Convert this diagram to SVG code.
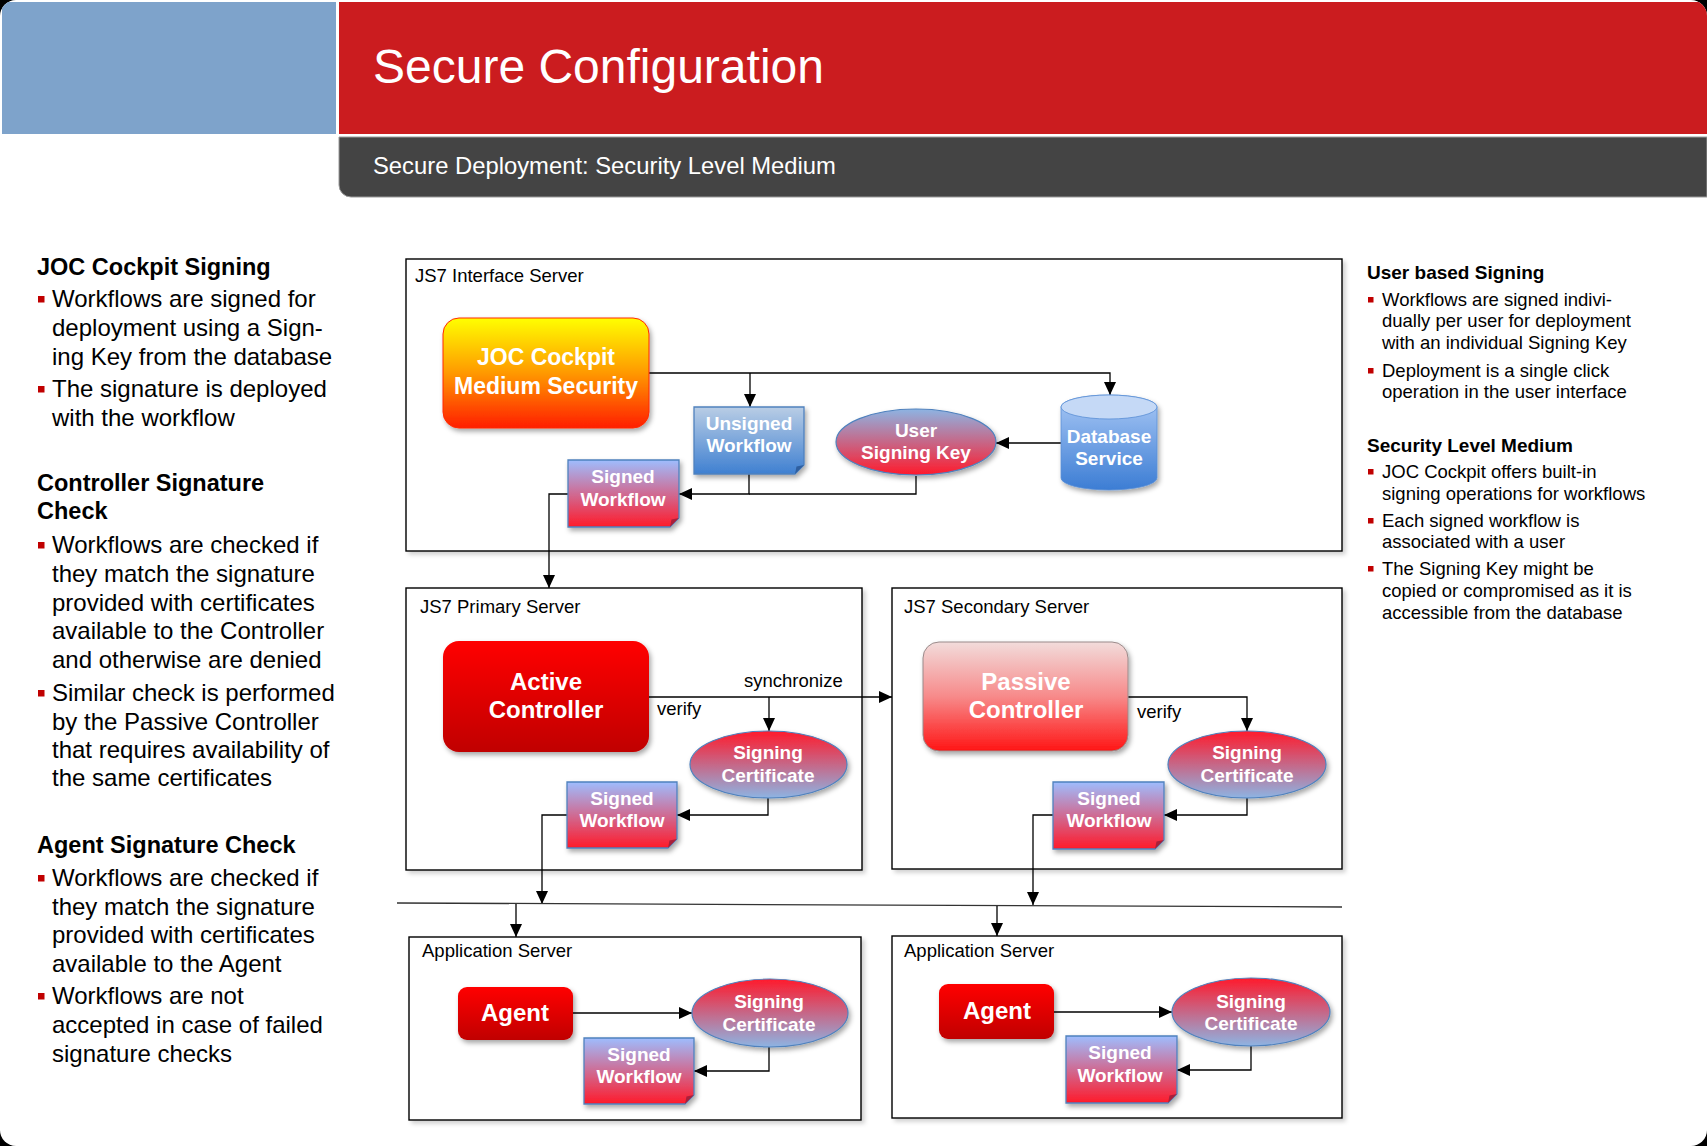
<svg xmlns="http://www.w3.org/2000/svg" width="1707" height="1146" viewBox="0 0 1707 1146">
<style>
.t{font-family:"Liberation Sans",Arial,sans-serif}
.h{font-weight:bold;fill:#000}
.lb{font-size:24px;fill:#000}
.rb{font-size:18.5px;fill:#000}
.bul{fill:#c00000}
.box{fill:#fff;stroke:#000;stroke-width:1.4}
.lbl{font-size:18.5px;fill:#000}
.nl{font-size:19px;font-weight:bold;fill:#fff;text-anchor:middle}
.nj{font-size:23px;font-weight:bold;fill:#fff;text-anchor:middle}
.nb{font-size:24px;font-weight:bold;fill:#fff;text-anchor:middle}
.conn{fill:none;stroke:#000;stroke-width:1.3}
.doc{stroke:#4f81bd;stroke-width:1.3}
.ell{stroke:#4f81bd;stroke-width:1.2}
</style>
<defs>
<clipPath id="cr"><rect x="0" y="0" width="1707" height="1146" rx="16"/></clipPath>
<linearGradient id="gJoc" x1="0" y1="0" x2="0" y2="1"><stop offset="0" stop-color="#ffff00"/><stop offset="0.5" stop-color="#ff9900"/><stop offset="1" stop-color="#ff1e00"/></linearGradient>
<linearGradient id="gRed" x1="0" y1="0" x2="0" y2="1"><stop offset="0" stop-color="#ff0000"/><stop offset="1" stop-color="#c00000"/></linearGradient>
<linearGradient id="gPass" x1="0" y1="0" x2="0" y2="1"><stop offset="0" stop-color="#f2dcdb"/><stop offset="0.5" stop-color="#f78a8a"/><stop offset="1" stop-color="#ff1515"/></linearGradient>
<linearGradient id="gSig" x1="0" y1="0" x2="0" y2="1"><stop offset="0" stop-color="#9ebdfe"/><stop offset="1" stop-color="#ff1a2a"/></linearGradient>
<linearGradient id="gUns" x1="0" y1="0" x2="0" y2="1"><stop offset="0" stop-color="#b9cde5"/><stop offset="1" stop-color="#3f80d1"/></linearGradient>
<linearGradient id="gCert" x1="0" y1="0" x2="0" y2="1"><stop offset="0" stop-color="#ff1a2c"/><stop offset="1" stop-color="#8db4e3"/></linearGradient>
<linearGradient id="gKey" x1="0" y1="0" x2="0" y2="1"><stop offset="0" stop-color="#8db4e3"/><stop offset="1" stop-color="#ff1a2c"/></linearGradient>
<linearGradient id="gDb" x1="0" y1="0" x2="0" y2="1"><stop offset="0" stop-color="#a9c8f5"/><stop offset="1" stop-color="#3c7dd4"/></linearGradient>
<marker id="ah" viewBox="0 0 13 12" refX="13" refY="6" markerWidth="13" markerHeight="12" markerUnits="userSpaceOnUse" orient="auto"><path d="M0,0 L13,6 L0,12 Z" fill="#000"/></marker>
<filter id="sh" x="-10%" y="-10%" width="130%" height="140%"><feDropShadow dx="2" dy="3" stdDeviation="2.5" flood-color="#000" flood-opacity="0.35"/></filter>
<filter id="bsh" x="-2%" y="-2%" width="104%" height="106%"><feDropShadow dx="3" dy="3" stdDeviation="2" flood-color="#000" flood-opacity="0.18"/></filter>
</defs>

<rect x="0" y="0" width="1707" height="1146" fill="#000"/>
<rect x="0" y="0" width="1707" height="1146" rx="16" fill="#fff"/>

<g id="header" clip-path="url(#cr)">
<rect x="2" y="2" width="334" height="132" fill="#7ea3cb"/>
<rect x="339" y="2" width="1368" height="132" fill="#cb1c1f"/>
<path d="M339,137 H1707 V197 H351 A12,12 0 0 1 339,185 Z" fill="#444444" stroke="#9a9a9a" stroke-width="1"/>
<text class="t" x="373" y="83" font-size="48" fill="#fff">Secure Configuration</text>
<text class="t" x="373" y="174" font-size="23.8" fill="#fff">Secure Deployment: Security Level Medium</text>
</g>

<g id="left-text" class="t">
<text class="h" x="37" y="275" font-size="23.5">JOC Cockpit Signing</text>
<rect class="bul" x="38" y="296" width="6.5" height="6.5"/>
<text class="lb" x="52" y="307">Workflows are signed for</text>
<text class="lb" x="52" y="336">deployment using a Sign-</text>
<text class="lb" x="52" y="365">ing Key from the database</text>
<rect class="bul" x="38" y="386" width="6.5" height="6.5"/>
<text class="lb" x="52" y="397">The signature is deployed</text>
<text class="lb" x="52" y="426">with the workflow</text>
<text class="h" x="37" y="491" font-size="23.5">Controller Signature</text>
<text class="h" x="37" y="519" font-size="23.5">Check</text>
<rect class="bul" x="38" y="542" width="6.5" height="6.5"/>
<text class="lb" x="52" y="553">Workflows are checked if</text>
<text class="lb" x="52" y="582">they match the signature</text>
<text class="lb" x="52" y="611">provided with certificates</text>
<text class="lb" x="52" y="639">available to the Controller</text>
<text class="lb" x="52" y="668">and otherwise are denied</text>
<rect class="bul" x="38" y="690" width="6.5" height="6.5"/>
<text class="lb" x="52" y="701">Similar check is performed</text>
<text class="lb" x="52" y="730">by the Passive Controller</text>
<text class="lb" x="52" y="758">that requires availability of</text>
<text class="lb" x="52" y="786">the same certificates</text>
<text class="h" x="37" y="853" font-size="23.5">Agent Signature Check</text>
<rect class="bul" x="38" y="875" width="6.5" height="6.5"/>
<text class="lb" x="52" y="886">Workflows are checked if</text>
<text class="lb" x="52" y="915">they match the signature</text>
<text class="lb" x="52" y="943">provided with certificates</text>
<text class="lb" x="52" y="972">available to the Agent</text>
<rect class="bul" x="38" y="993" width="6.5" height="6.5"/>
<text class="lb" x="52" y="1004">Workflows are not</text>
<text class="lb" x="52" y="1033">accepted in case of failed</text>
<text class="lb" x="52" y="1062">signature checks</text>
</g>

<g id="right-text" class="t">
<text class="h" x="1367" y="279" font-size="19">User based Signing</text>
<rect class="bul" x="1368" y="297" width="5.5" height="5.5"/>
<text class="rb" x="1382" y="306">Workflows are signed indivi-</text>
<text class="rb" x="1382" y="327">dually per user for deployment</text>
<text class="rb" x="1382" y="349">with an individual Signing Key</text>
<rect class="bul" x="1368" y="368" width="5.5" height="5.5"/>
<text class="rb" x="1382" y="377">Deployment is a single click</text>
<text class="rb" x="1382" y="398">operation in the user interface</text>
<text class="h" x="1367" y="452" font-size="19">Security Level Medium</text>
<rect class="bul" x="1368" y="469" width="5.5" height="5.5"/>
<text class="rb" x="1382" y="478">JOC Cockpit offers built-in</text>
<text class="rb" x="1382" y="500">signing operations for workflows</text>
<rect class="bul" x="1368" y="518" width="5.5" height="5.5"/>
<text class="rb" x="1382" y="527">Each signed workflow is</text>
<text class="rb" x="1382" y="548">associated with a user</text>
<rect class="bul" x="1368" y="566" width="5.5" height="5.5"/>
<text class="rb" x="1382" y="575">The Signing Key might be</text>
<text class="rb" x="1382" y="597">copied or compromised as it is</text>
<text class="rb" x="1382" y="619">accessible from the database</text>
</g>

<g id="server-boxes" class="t">
<g id="interface-server"><rect class="box" filter="url(#bsh)" x="406" y="259" width="936" height="292"/><text class="lbl" x="415" y="282">JS7 Interface Server</text></g>
<g id="primary-server"><rect class="box" filter="url(#bsh)" x="406" y="588" width="456" height="282"/><text class="lbl" x="420" y="613">JS7 Primary Server</text></g>
<g id="secondary-server"><rect class="box" filter="url(#bsh)" x="892" y="588" width="450" height="281"/><text class="lbl" x="904" y="613">JS7 Secondary Server</text></g>
<g id="app-server-1"><rect class="box" filter="url(#bsh)" x="409" y="937" width="452" height="183"/><text class="lbl" x="422" y="957">Application Server</text></g>
<g id="app-server-2"><rect class="box" filter="url(#bsh)" x="892" y="936" width="450" height="182"/><text class="lbl" x="904" y="957">Application Server</text></g>
</g>

<g id="connectors" class="conn">
<path d="M649,373 H1110 V395" marker-end="url(#ah)"/>
<path d="M750,373 V407" marker-end="url(#ah)"/>
<path d="M1061,443 H996" marker-end="url(#ah)"/>
<path d="M749,474 V494 H679" marker-end="url(#ah)"/>
<path d="M916,476 V494 H749"/>
<path d="M568,494 H549 V588" marker-end="url(#ah)"/>
<path d="M649,697 H892" marker-end="url(#ah)"/>
<path d="M769,697 V731" marker-end="url(#ah)"/>
<path d="M768,798 V815 H677" marker-end="url(#ah)"/>
<path d="M567,815 H542 V904" marker-end="url(#ah)"/>
<path d="M1128,697 H1247 V731" marker-end="url(#ah)"/>
<path d="M1247,798 V815 H1164" marker-end="url(#ah)"/>
<path d="M1053,815 H1033 V905" marker-end="url(#ah)"/>
<path d="M397,903 L1342,907" stroke="#333"/>
<path d="M516,904 V937" marker-end="url(#ah)"/>
<path d="M997,906 V936" marker-end="url(#ah)"/>
<path d="M573,1013 H692" marker-end="url(#ah)"/>
<path d="M769,1047 V1071 H694" marker-end="url(#ah)"/>
<path d="M1054,1012 H1172" marker-end="url(#ah)"/>
<path d="M1251,1046 V1070 H1177" marker-end="url(#ah)"/>
</g>

<g id="connector-labels" class="t">
<text class="lbl" x="744" y="687">synchronize</text>
<text class="lbl" x="657" y="715">verify</text>
<text class="lbl" x="1137" y="718">verify</text>
</g>

<g id="joc-cockpit" class="t">
<rect x="443" y="318" width="206" height="110" rx="16" fill="url(#gJoc)" stroke="#ff2a00" stroke-width="1" filter="url(#sh)"/>
<text class="nj" x="546" y="365">JOC Cockpit</text>
<text class="nj" x="546" y="394">Medium Security</text>
</g>

<g id="unsigned-workflow" class="t">
<path class="doc" d="M694,407 H804 V465 L795,474 H694 Z" fill="url(#gUns)" filter="url(#sh)"/>
<path d="M804,465 L795,474 L796.5,466.5 Z" fill="#2f5f9f"/>
<text class="nl" x="749" y="430">Unsigned</text>
<text class="nl" x="749" y="452">Workflow</text>
</g>

<g id="signed-workflow-joc" class="t">
<path class="doc" d="M568,460 H679 V518 L670,527 H568 Z" fill="url(#gSig)" filter="url(#sh)"/>
<path d="M679,518 L670,527 L671.5,519.5 Z" fill="#a8203a"/>
<text class="nl" x="623" y="483">Signed</text>
<text class="nl" x="623" y="506">Workflow</text>
</g>

<g id="user-signing-key" class="t">
<ellipse class="ell" cx="916" cy="442" rx="80" ry="33" fill="url(#gKey)" filter="url(#sh)"/>
<text class="nl" x="916" y="437">User</text>
<text class="nl" x="916" y="459">Signing Key</text>
</g>

<g id="database-service" class="t">
<path d="M1061,407 A48,12 0 0 1 1157,407 V478 A48,12 0 0 1 1061,478 Z" fill="url(#gDb)" stroke="#5a8fd6" stroke-width="0.8" filter="url(#sh)"/>
<ellipse cx="1109" cy="407" rx="48" ry="12" fill="#c5d9f6" stroke="#5a8fd6" stroke-width="0.8"/>
<text class="nl" x="1109" y="443">Database</text>
<text class="nl" x="1109" y="465">Service</text>
</g>

<g id="active-controller" class="t">
<rect x="443" y="641" width="206" height="111" rx="16" fill="url(#gRed)" filter="url(#sh)"/>
<text class="nb" x="546" y="690">Active</text>
<text class="nb" x="546" y="718">Controller</text>
</g>

<g id="signing-certificate-primary" class="t">
<ellipse class="ell" cx="768.5" cy="764.5" rx="78.5" ry="33.5" fill="url(#gCert)" filter="url(#sh)"/>
<text class="nl" x="768" y="759">Signing</text>
<text class="nl" x="768" y="782">Certificate</text>
</g>

<g id="signed-workflow-primary" class="t">
<path class="doc" d="M567,782 H677 V839 L668,848 H567 Z" fill="url(#gSig)" filter="url(#sh)"/>
<path d="M677,839 L668,848 L669.5,840.5 Z" fill="#a8203a"/>
<text class="nl" x="622" y="805">Signed</text>
<text class="nl" x="622" y="827">Workflow</text>
</g>

<g id="passive-controller" class="t">
<rect x="923" y="642" width="205" height="109" rx="16" fill="url(#gPass)" stroke="#9a8a8a" stroke-width="1" filter="url(#sh)"/>
<text class="nb" x="1026" y="690">Passive</text>
<text class="nb" x="1026" y="718">Controller</text>
</g>

<g id="signing-certificate-secondary" class="t">
<ellipse class="ell" cx="1247" cy="764.5" rx="79" ry="33.5" fill="url(#gCert)" filter="url(#sh)"/>
<text class="nl" x="1247" y="759">Signing</text>
<text class="nl" x="1247" y="782">Certificate</text>
</g>

<g id="signed-workflow-secondary" class="t">
<path class="doc" d="M1053,782 H1164 V840 L1155,849 H1053 Z" fill="url(#gSig)" filter="url(#sh)"/>
<path d="M1164,840 L1155,849 L1156.5,841.5 Z" fill="#a8203a"/>
<text class="nl" x="1109" y="805">Signed</text>
<text class="nl" x="1109" y="827">Workflow</text>
</g>

<g id="agent-1" class="t">
<rect x="458" y="987" width="115" height="53" rx="9" fill="url(#gRed)" filter="url(#sh)"/>
<text class="nb" x="515" y="1021">Agent</text>
</g>

<g id="signing-certificate-agent-1" class="t">
<ellipse class="ell" cx="770" cy="1013" rx="78" ry="34" fill="url(#gCert)" filter="url(#sh)"/>
<text class="nl" x="769" y="1008">Signing</text>
<text class="nl" x="769" y="1031">Certificate</text>
</g>

<g id="signed-workflow-agent-1" class="t">
<path class="doc" d="M584,1038 H694 V1095 L685,1104 H584 Z" fill="url(#gSig)" filter="url(#sh)"/>
<path d="M694,1095 L685,1104 L686.5,1096.5 Z" fill="#a8203a"/>
<text class="nl" x="639" y="1061">Signed</text>
<text class="nl" x="639" y="1083">Workflow</text>
</g>

<g id="agent-2" class="t">
<rect x="939" y="984" width="115" height="55" rx="9" fill="url(#gRed)" filter="url(#sh)"/>
<text class="nb" x="997" y="1019">Agent</text>
</g>

<g id="signing-certificate-agent-2" class="t">
<ellipse class="ell" cx="1251" cy="1012" rx="79" ry="34" fill="url(#gCert)" filter="url(#sh)"/>
<text class="nl" x="1251" y="1008">Signing</text>
<text class="nl" x="1251" y="1030">Certificate</text>
</g>

<g id="signed-workflow-agent-2" class="t">
<path class="doc" d="M1066,1036 H1177 V1094 L1168,1103 H1066 Z" fill="url(#gSig)" filter="url(#sh)"/>
<path d="M1177,1094 L1168,1103 L1169.5,1095.5 Z" fill="#a8203a"/>
<text class="nl" x="1120" y="1059">Signed</text>
<text class="nl" x="1120" y="1082">Workflow</text>
</g>
</svg>
